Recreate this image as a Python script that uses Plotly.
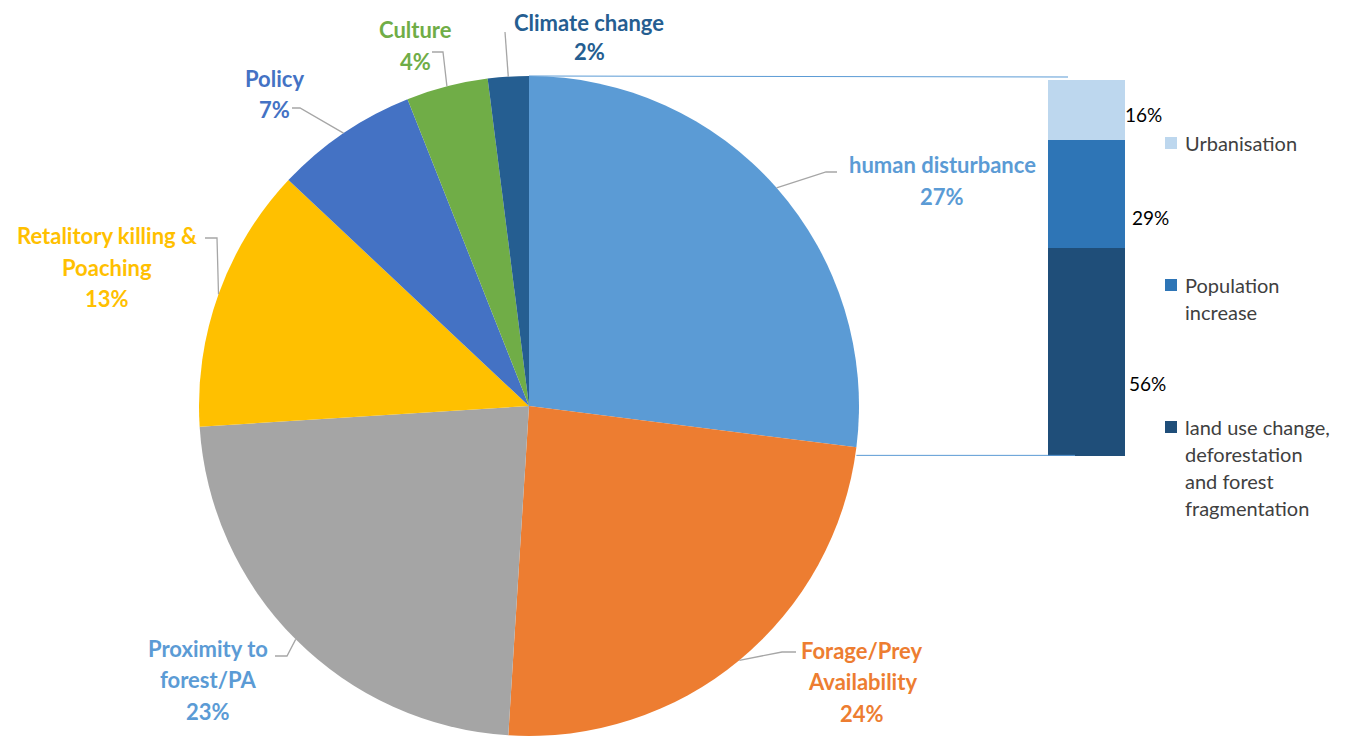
import math
import plotly.graph_objects as go

W, H = 1349, 736
PAGE_OFFSET = 8  # default body margin of the page that holds the figure

# ---------------- data ----------------
causes = ["human disturbance", "Forage/Prey Availability", "Proximity to forest/PA",
          "Retalitory killing & Poaching", "Policy", "Culture", "Climate change"]
cause_label_lines = [["human disturbance"], ["Forage/Prey", "Availability"],
                     ["Proximity to", "forest/PA"], ["Retalitory killing &", "Poaching"],
                     ["Policy"], ["Culture"], ["Climate change"]]
shares = [27, 24, 23, 13, 7, 4, 2]

sub_causes = ["Urbanisation", "Population increase",
              "land use change, deforestation and forest fragmentation"]
sub_label_lines = [["Urbanisation"], ["Population", "increase"],
                   ["land use change,", "deforestation", "and forest", "fragmentation"]]
sub_shares = [16, 29, 56]

# ---------------- style ----------------
slice_colors = ["#5B9BD5", "#ED7D31", "#A5A5A5", "#FFC000", "#4472C4", "#70AD47", "#255E91"]
label_colors = ["#5B9BD5", "#ED7D31", "#5B9BD5", "#FFC000", "#4472C4", "#70AD47", "#255E91"]
sub_colors = ["#BDD7EE", "#2E75B6", "#1F4E79"]

FONT = "Lato"
PIE_LEFT, PIE_RIGHT, PIE_TOP, PIE_BOTTOM = 199, 859, 76, 736
CX = (PIE_LEFT + PIE_RIGHT) / 2
CY = (PIE_TOP + PIE_BOTTOM) / 2
R = (PIE_RIGHT - PIE_LEFT) / 2

# label layout (pixel): centre x, first-line centre y, line gap, elbow point, text-side end of leader
label_layout = [
    dict(cx=942, cy=165, gap=31.5, elbow=(826, 172), end=(837, 172)),
    dict(cx=862, cy=650, gap=31.5, elbow=(782, 652), end=(796, 652)),
    dict(cx=208, cy=648, gap=31.5, elbow=(287, 656), end=(275, 656)),
    dict(cx=107, cy=236, gap=31.5, elbow=(217, 238), end=(205, 238)),
    dict(cx=274, cy=78, gap=31.5, elbow=(300, 108), end=(292, 108)),
    dict(cx=415, cy=30, gap=31.5, elbow=(443, 52), end=(432, 52)),
    dict(cx=589, cy=23, gap=28.5, elbow=(505, 32), end=(505, 32)),
]

BAR_X0, BAR_X1, BAR_TOP, BAR_BOTTOM = 1048, 1125, 80, 456
bar_label_frac = [0.58, 0.72, 0.65]   # relative vertical position of value labels inside segment
bar_label_dx = [18, 25, 22]
LEG_SQ_X, LEG_TXT_X = 1171, 1183
legend_first_y = [143, 285, 427]
LEG_LINE_GAP = 27


def px(x):
    return (x - PAGE_OFFSET) / W


def py(y):
    return 1 - (y - PAGE_OFFSET) / H


fig = go.Figure()

fig.add_trace(go.Pie(
    labels=causes, values=shares, sort=False, direction="clockwise", rotation=0,
    marker=dict(colors=slice_colors, line=dict(width=0)),
    textinfo="none", hoverinfo="label+percent", showlegend=False,
    domain=dict(x=[px(PIE_LEFT), px(PIE_RIGHT)], y=[py(PIE_BOTTOM), py(PIE_TOP)]),
))

# stacked bar (bottom to top: land use, population, urbanisation)
total = sum(sub_shares)
for i in reversed(range(len(sub_causes))):
    fig.add_trace(go.Bar(
        x=[0], y=[sub_shares[i]], name=sub_causes[i], width=1,
        marker=dict(color=sub_colors[i], line=dict(width=0)),
        xaxis="x2", yaxis="y2", showlegend=False, hoverinfo="name+y",
    ))

annotations = []
shapes = []

# pie labels + leader lines
tot = sum(shares)
cum = 0
for i, v in enumerate(shares):
    mid = (cum + v / 2) / tot * 2 * math.pi
    cum += v
    ex = CX + R * math.sin(mid)
    ey = CY - R * math.cos(mid)
    lay = label_layout[i]
    lines = cause_label_lines[i] + [f"{v}%"]
    for k, t in enumerate(lines):
        annotations.append(dict(
            x=px(lay["cx"]), y=py(lay["cy"] + k * lay["gap"]), xref="paper", yref="paper",
            text=f"<b>{t}</b>", showarrow=False, xanchor="center", yanchor="middle",
            borderpad=0, font=dict(family=FONT, size=22, color=label_colors[i]),
        ))
    (bx, by), (tx, ty) = lay["elbow"], lay["end"]
    shapes.append(dict(
        type="path", xref="paper", yref="paper",
        path=f"M {px(ex)} {py(ey)} L {px(bx)} {py(by)} L {px(tx)} {py(ty)}",
        line=dict(color="#A6A6A6", width=1.3),
    ))

# connector lines from the human disturbance slice to the bar
end_ang = shares[0] / tot * 2 * math.pi
shapes.append(dict(type="line", xref="paper", yref="paper",
                   x0=px(CX), y0=py(CY - R), x1=px(1068), y1=py(CY - R + 1),
                   line=dict(color="#5B9BD5", width=1)))
shapes.append(dict(type="line", xref="paper", yref="paper",
                   x0=px(CX + R * math.sin(end_ang)), y0=py(CY - R * math.cos(end_ang) + 8),
                   x1=px(1075), y1=py(CY - R * math.cos(end_ang) + 8),
                   line=dict(color="#5B9BD5", width=1)))

# bar value labels and legend
scale = (BAR_BOTTOM - BAR_TOP) / total
top = BAR_TOP
for i, v in enumerate(sub_shares):
    h = v * scale
    annotations.append(dict(
        x=px(BAR_X1 + bar_label_dx[i]), y=py(top + bar_label_frac[i] * h), xref="paper", yref="paper",
        text=f"{v}%", showarrow=False, xanchor="center", yanchor="middle",
        font=dict(family=FONT, size=19, color="#000000"),
    ))
    top += h
    y0 = legend_first_y[i]
    shapes.append(dict(type="rect", xref="paper", yref="paper",
                       x0=px(LEG_SQ_X - 6), x1=px(LEG_SQ_X + 6), y0=py(y0 - 6), y1=py(y0 + 6),
                       fillcolor=sub_colors[i], line=dict(width=0)))
    for k, t in enumerate(sub_label_lines[i]):
        annotations.append(dict(
            x=px(LEG_TXT_X), y=py(y0 + k * LEG_LINE_GAP), xref="paper", yref="paper",
            text=t, showarrow=False, xanchor="left", yanchor="middle",
            font=dict(family=FONT, size=20, color="#404040"),
        ))

fig.update_layout(
    width=W, height=H, margin=dict(l=0, r=0, t=0, b=0),
    paper_bgcolor="white", plot_bgcolor="white",
    barmode="stack", bargap=0,
    xaxis=dict(visible=False),
    yaxis=dict(visible=False),
    xaxis2=dict(domain=[px(BAR_X0), px(BAR_X1)], range=[-0.5, 0.5], visible=False, anchor="y2"),
    yaxis2=dict(domain=[py(BAR_BOTTOM), py(BAR_TOP)], range=[0, total], visible=False, anchor="x2"),
    annotations=annotations, shapes=shapes,
)

fig.write_html("out.html")
